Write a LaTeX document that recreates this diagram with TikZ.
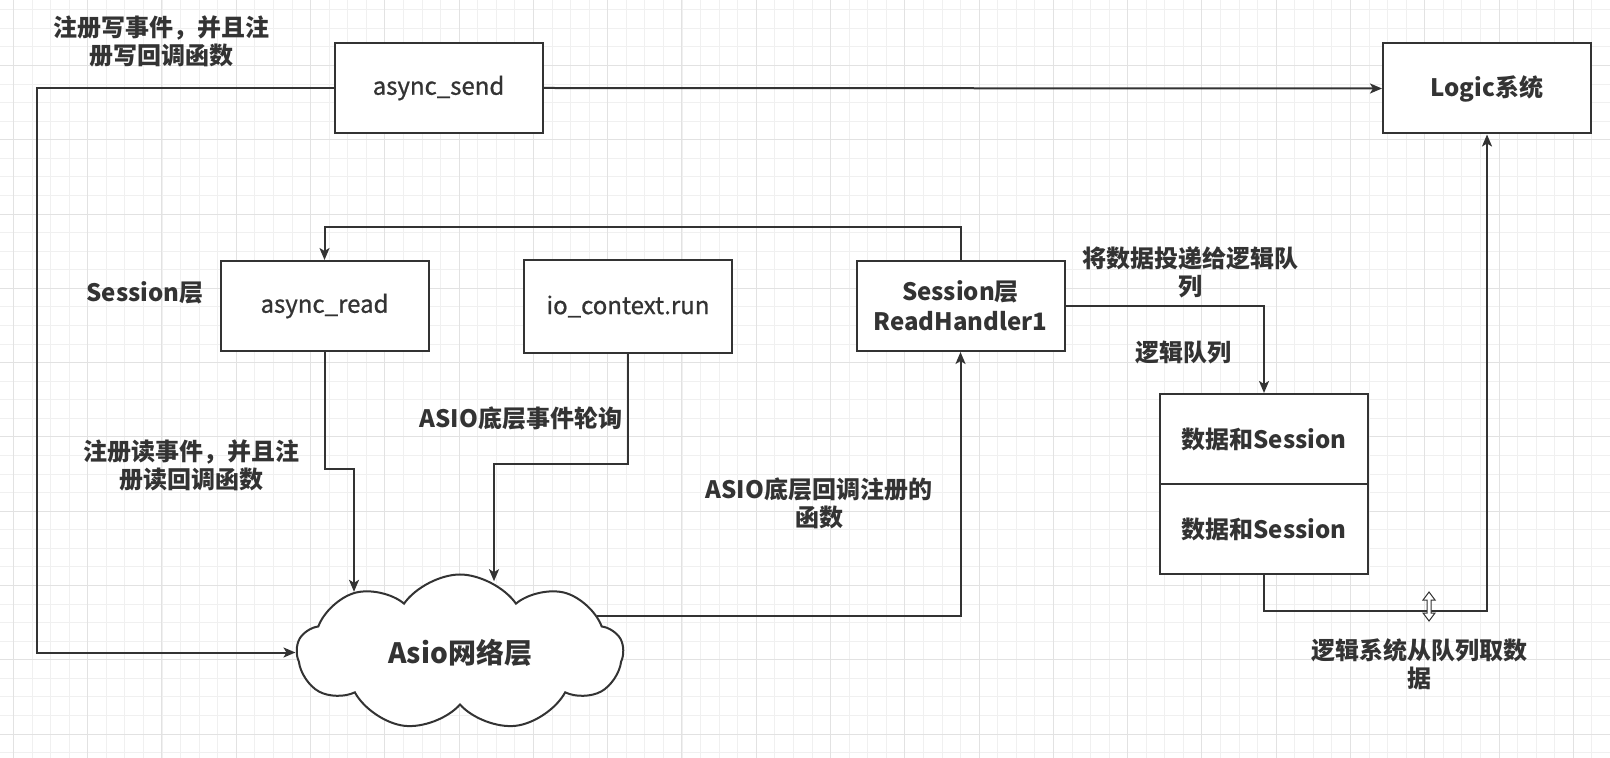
\documentclass[tikz,border=0pt]{standalone}
\usepackage{fontspec}
\setmainfont{Noto Sans CJK SC}
\newfontfamily\medfont[FakeBold=0.8]{Noto Sans CJK SC}
\usepackage{tikz}
\usetikzlibrary{positioning,shapes.symbols,arrows.meta}

\definecolor{linec}{HTML}{333333}
\definecolor{gridminor}{HTML}{F0F0F0}
\definecolor{gridmajor}{HTML}{E2E2E2}

\tikzset{
    box/.style={draw=linec, line width=1pt, fill=white, text=linec,
        minimum width=104pt, minimum height=45pt, inner sep=2pt,
        align=center, font=\medfont\fontsize{12}{15}\selectfont},
    boldbox/.style={box, font=\bfseries\fontsize{12}{15}\selectfont},
    lbl/.style={text=linec, align=center, inner sep=0pt,
        font=\bfseries\fontsize{12}{14}\selectfont},
    link/.style={draw=linec, line width=1pt},
    arr/.style={link, -{Stealth[length=6pt,width=5pt,inset=1.5pt]}},
}

\begin{document}
\begin{tikzpicture}[x=0.5pt, y=-0.5pt]
    \useasboundingbox[fill=white] (0,0) rectangle (1610,758);

    % grid
    \foreach \i in {0,...,85}
        \draw[gridminor, line width=0.4pt] ({13.4+18.57*\i},0) -- ({13.4+18.57*\i},758);
    \foreach \i in {0,...,40}
        \draw[gridminor, line width=0.4pt] (0,{9.7+18.57*\i}) -- (1610,{9.7+18.57*\i});
    \foreach \k in {0,...,21}
        \draw[gridmajor, line width=0.5pt] ({13.4+74.28*\k},0) -- ({13.4+74.28*\k},758);
    \foreach \k in {0,...,9}
        \draw[gridmajor, line width=0.5pt] (0,{65.5+74.28*\k}) -- (1610,{65.5+74.28*\k});

    % boxes
    \node[box] (send) at (438.5,88) {async\_send};
    \node[boldbox] (logic) at (1487,88.5) {Logic系统};
    \node[box] (read) at (324.5,306) {async\_read};
    \node[box, minimum height=46.5pt] (io) at (628,306.5) {io\_context.run};
    \node[boldbox] (handler) at (960.5,306) {Session层\\ReadHandler1};
    \node[boldbox] (queue1) at (1264,439) {数据和Session};
    \node[boldbox, below=-1pt of queue1] (queue2) {数据和Session};

    \node[cloud, cloud puffs=9, cloud puff arc=110, aspect=2.1,
        draw=linec, line width=1pt, fill=white, text=linec,
        minimum width=163pt, minimum height=78pt, inner sep=0pt,
        font=\bfseries\fontsize{14}{16}\selectfont] (asio) at (460,652.5) {Asio网络层};

    % labels
    \node[lbl] (lsend) at (161,41) {注册写事件，并且注\\册写回调函数};
    \node[lbl] (lsession) at (145,293) {Session层};
    \node[lbl] (lread) at (191,465) {注册读事件，并且注\\册读回调函数};
    \node[lbl] (lpoll) at (521,418) {ASIO底层事件轮询};
    \node[lbl] (lcall) at (819,503) {ASIO底层回调注册的\\函数};
    \node[lbl] (lpost) at (1190,272) {将数据投递给逻辑队\\列};
    \node[lbl] (lqueue) at (1183,352) {逻辑队列};
    \node[lbl] (lfetch) at (1419,664) {逻辑系统从队列取数\\据};

    % connectors
    \coordinate (wcorner) at (37,88);
    \coordinate (rtop) at (324.5,227);
    \coordinate (rbend) at (354,469);
    \coordinate (ibend) at (494,464);

    \draw[arr] (send.west) -- (wcorner) |- (asio.west);
    \draw[arr] (send.east) -- (logic.west);
    \draw[arr] (handler.north) |- (rtop) -- (read.north);
    \draw[arr] (handler.east) -| (queue1.north);
    \draw[arr] (queue2.south) -- ++(0,36) -| (logic.south);
    \draw[arr] (read.south) |- (rbend) -- (rbend |- asio.150);
    \draw[arr] (io.south) |- (ibend) -- (ibend |- asio.66);
    \draw[arr] (asio.15) -| (handler.south);

    % cursor
    \draw[linec, fill=white, line width=0.5pt, line join=miter]
        (1429,592) -- (1435,600) -- (1431,600) -- (1431,613) -- (1435,613)
        -- (1429,621) -- (1423,613) -- (1427,613) -- (1427,600) -- (1423,600) -- cycle;
\end{tikzpicture}
\end{document}
